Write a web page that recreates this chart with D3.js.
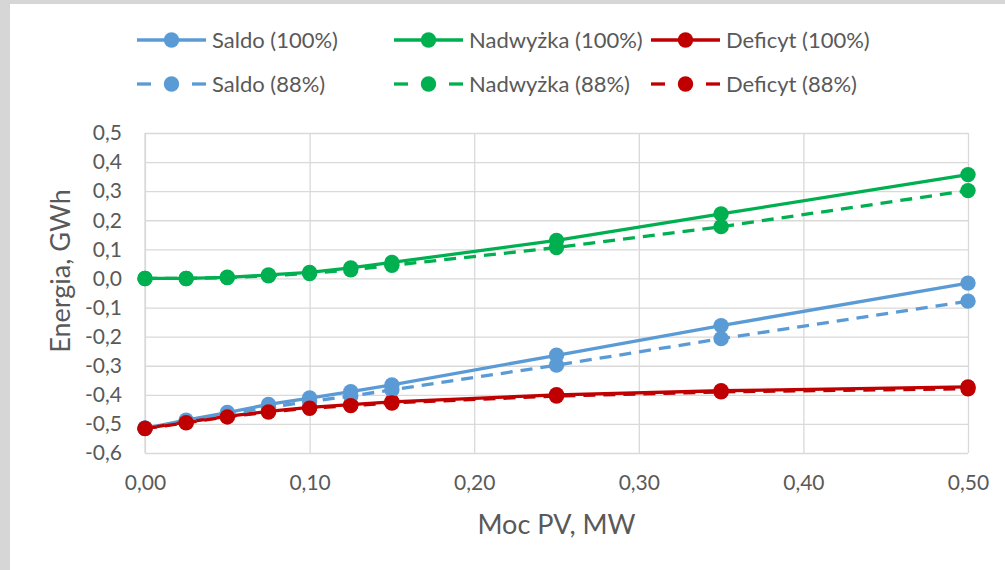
<!DOCTYPE html>
<html>
<head>
<meta charset="utf-8">
<script src="https://cdn.jsdelivr.net/npm/d3@7"></script>
<style>
    body { margin: 0; background: #d6d6d6; }
    svg { display: block; }
    text { font-family: Lato, "Open Sans", sans-serif; fill: #595959; }
</style>
</head>
<body>
<svg id="chart"></svg>
<script>
// x values - PV power in MW
let pvPower = [0, 0.025, 0.05, 0.075, 0.1, 0.125, 0.15, 0.25, 0.35, 0.5];

// energy values in GWh
let saldo100 = [-0.515, -0.487, -0.461, -0.433, -0.411, -0.389, -0.366, -0.264, -0.162, -0.016];
let nadwyzka100 = [0.000, 0.000, 0.004, 0.012, 0.021, 0.036, 0.055, 0.131, 0.222, 0.357];
let deficyt100 = [-0.515, -0.494, -0.474, -0.457, -0.443, -0.434, -0.424, -0.400, -0.386, -0.373];
let saldo88 = [-0.515, -0.491, -0.467, -0.443, -0.423, -0.404, -0.383, -0.298, -0.207, -0.078];
let nadwyzka88 = [0.000, 0.000, 0.003, 0.009, 0.017, 0.030, 0.045, 0.106, 0.178, 0.302];
let deficyt88 = [-0.516, -0.496, -0.476, -0.459, -0.446, -0.437, -0.428, -0.404, -0.390, -0.379];

let seriesNames = ["Saldo (100%)", "Nadwyżka (100%)", "Deficyt (100%)", "Saldo (88%)", "Nadwyżka (88%)", "Deficyt (88%)"];
let seriesValues = [saldo100, nadwyzka100, deficyt100, saldo88, nadwyzka88, deficyt88];

let xTicks = [0, 0.1, 0.2, 0.3, 0.4, 0.5];
let yTicks = [-0.6, -0.5, -0.4, -0.3, -0.2, -0.1, 0, 0.1, 0.2, 0.3, 0.4, 0.5];

let colors = ["#5B9BD5", "#00B050", "#C00000"];

function drawChart(){
    let width = 1005, height = 570;
    let svg = d3.select("#chart")
        .attr("width", width)
        .attr("height", height);

    //white card over the grey background
    svg.append("rect")
        .attr("x", 10).attr("y", 4)
        .attr("width", width - 10).attr("height", height - 4)
        .attr("fill", "#ffffff");

    let margin = { top: 133, right: 37, bottom: 117, left: 145 };
    let innerWidth = width - margin.left - margin.right;
    let innerHeight = height - margin.top - margin.bottom;

    //polish number format with comma
    let pl = d3.formatLocale({ decimal: ",", thousands: " ", grouping: [3], currency: ["", " zł"], minus: "-" });

    let xScale = d3.scaleLinear().domain([0, 0.5]).range([0, innerWidth]);
    let yScale = d3.scaleLinear().domain([-0.6, 0.5]).range([innerHeight, 0]);

    let g = svg.append("g")
        .attr("transform", `translate(${margin.left},${margin.top})`);

    //horizontal gridlines and y labels
    let yAxis = g.append("g")
        .call(d3.axisLeft(yScale).tickValues(yTicks).tickFormat(pl.format(".1f")).tickSize(-innerWidth).tickPadding(23));
    yAxis.select(".domain").remove();
    yAxis.selectAll(".tick line").attr("stroke", "#d9d9d9").attr("stroke-width", 1.3);
    yAxis.selectAll(".tick text").attr("font-size", "21px").attr("fill", "#595959");

    //vertical gridlines and x labels
    let xAxis = g.append("g")
        .attr("transform", `translate(0,${innerHeight})`)
        .call(d3.axisBottom(xScale).tickValues(xTicks).tickFormat(pl.format(".2f")).tickSize(-innerHeight).tickPadding(22));
    xAxis.select(".domain").remove();
    xAxis.selectAll(".tick line").attr("stroke", "#d9d9d9").attr("stroke-width", 1.3);
    xAxis.selectAll(".tick text").attr("font-size", "21px").attr("fill", "#595959");

    //left border of the plot
    g.append("line")
        .attr("x1", 0).attr("x2", 0)
        .attr("y1", 0).attr("y2", innerHeight)
        .attr("stroke", "#d9d9d9").attr("stroke-width", 1.3);

    let line = d3.line()
        .x((d, i) => xScale(pvPower[i]))
        .y(d => yScale(d));

    //lines and markers for every series
    seriesValues.forEach(function (values, k){
        let color = colors[k % 3];
        let dashed = k >= 3;
        g.append("path")
            .datum(values)
            .attr("d", line)
            .attr("fill", "none")
            .attr("stroke", color)
            .attr("stroke-width", 3.3)
            .attr("stroke-dasharray", dashed ? "12,8" : null);
        g.append("g")
            .selectAll("circle")
            .data(values)
            .join("circle")
            .attr("cx", (d, i) => xScale(pvPower[i]))
            .attr("cy", d => yScale(d))
            .attr("r", 7.7)
            .attr("fill", color);
    });

    //legend in two rows
    let legendX = [137, 394, 651];
    let legendY = [40, 84];
    seriesNames.forEach(function (name, k){
        let lx = legendX[k % 3];
        let ly = legendY[Math.floor(k / 3)];
        let color = colors[k % 3];
        let item = svg.append("g").attr("transform", `translate(${lx},${ly})`);
        if(k < 3){
            item.append("line").attr("x1", 0).attr("x2", 69).attr("y1", 0).attr("y2", 0)
                .attr("stroke", color).attr("stroke-width", 3.3);
        }else {
            item.append("line").attr("x1", 0).attr("x2", 14).attr("y1", 0).attr("y2", 0)
                .attr("stroke", color).attr("stroke-width", 3.3);
            item.append("line").attr("x1", 55).attr("x2", 69).attr("y1", 0).attr("y2", 0)
                .attr("stroke", color).attr("stroke-width", 3.3);
        }
        item.append("circle").attr("cx", 34.5).attr("cy", 0).attr("r", 7.7).attr("fill", color);
        item.append("text")
            .attr("x", 75).attr("y", 0)
            .attr("dy", "0.35em")
            .attr("font-size", "22px")
            .text(name);
    });

    //axis titles
    svg.append("text")
        .attr("x", margin.left + innerWidth / 2)
        .attr("y", 534)
        .attr("text-anchor", "middle")
        .attr("font-size", "27px")
        .text("Moc PV, MW");

    svg.append("text")
        .attr("transform", `translate(70,${margin.top + innerHeight / 2 - 22}) rotate(-90)`)
        .attr("text-anchor", "middle")
        .attr("font-size", "27px")
        .text("Energia, GWh");
}

drawChart();
</script>
</body>
</html>
